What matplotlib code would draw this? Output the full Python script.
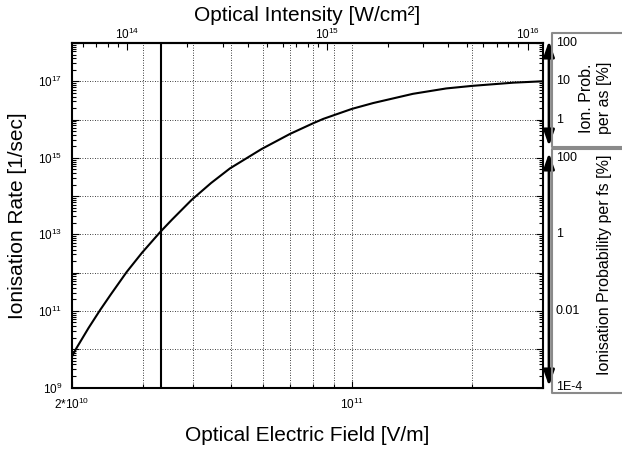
import numpy as np
import matplotlib
matplotlib.use("Agg")
import matplotlib.pyplot as plt
from matplotlib.ticker import FixedLocator, FixedFormatter, NullFormatter, LogLocator
from matplotlib.patches import FancyArrowPatch
from matplotlib.lines import Line2D
from matplotlib.transforms import blended_transform_factory

plt.rcParams['font.family'] = ['Liberation Sans', 'DejaVu Sans']

# optical field [V/m] and ionisation rate [1/s]
field = [2.0e10, 2.05e10, 2.2e10, 2.35e10, 2.5e10, 2.74e10, 2.99e10, 3.32e10,
         3.55e10, 3.98e10, 4.45e10, 4.96e10, 5.95e10, 7.0e10, 8.0e10, 8.48e10,
         1.0e11, 1.13e11, 1.42e11, 1.72e11, 2.0e11, 2.53e11, 3.0e11]
rate = [6.5e9, 1.05e10, 3.6e10, 1.05e11, 2.7e11, 1.05e12, 3.3e12, 1.15e13,
        2.4e13, 8.0e13, 2.2e14, 5.3e14, 1.7e15, 4.2e15, 8.0e15, 1.04e16,
        1.9e16, 2.7e16, 4.7e16, 6.5e16, 7.6e16, 9.2e16, 1.0e17]
field_marker = 3.33e10

field_major = [2e10, 1e11]
field_major_labels = [r'2*$\mathdefault{10^{10}}$', r'$\mathdefault{10^{11}}$']
field_minor = [3e10, 4e10, 5e10, 6e10, 7e10, 8e10, 9e10, 2e11, 3e11]

rate_ticks = [1e9, 1e10, 1e11, 1e12, 1e13, 1e14, 1e15, 1e16, 1e17, 1e18]
rate_labels = [r'$\mathdefault{10^{9}}$', '', r'$\mathdefault{10^{11}}$', '',
               r'$\mathdefault{10^{13}}$', '', r'$\mathdefault{10^{15}}$', '',
               r'$\mathdefault{10^{17}}$', '']

intensity_ticks = [1e14, 1e15, 1e16]
intensity_labels = [r'$\mathdefault{10^{14}}$', r'$\mathdefault{10^{15}}$',
                    r'$\mathdefault{10^{16}}$']

# probability scales [%] shown in the side boxes
prob_as = [100, 10, 1]
prob_as_labels = ['100', '10', '1']
prob_fs = [100, 1, 0.01, 1e-4]
prob_fs_labels = ['100', '1', '0.01', '1E-4']

K = 1.327e-7  # I[W/cm^2] = eps0*c/2 * E^2 / 1e4


def to_intensity(e):
    return K * np.asarray(e) ** 2


def to_field(i):
    return np.sqrt(np.abs(np.asarray(i)) / K)


W, H = 623, 454
fig = plt.figure(figsize=(W / 100, H / 100), dpi=100)
ax = fig.add_axes([72 / W, 1 - 387.5 / H, 471 / W, 344.5 / H])
ax.set_xscale('log')
ax.set_yscale('log')
ax.set_xlim(2e10, 3e11)
ax.set_ylim(1e9, 1e18)

ax.plot(field, rate, color='black', lw=1.5, zorder=3)
ax.axvline(field_marker, color='black', lw=1.5, zorder=3)

ax.xaxis.set_major_locator(FixedLocator(field_major))
ax.xaxis.set_major_formatter(FixedFormatter(field_major_labels))
ax.xaxis.set_minor_locator(FixedLocator(field_minor))
ax.xaxis.set_minor_formatter(NullFormatter())
ax.yaxis.set_major_locator(FixedLocator(rate_ticks))
ax.yaxis.set_major_formatter(FixedFormatter(rate_labels))
ax.yaxis.set_minor_locator(LogLocator(base=10, subs=np.arange(2, 10), numticks=100))
ax.yaxis.set_minor_formatter(NullFormatter())

dots = (0, (1, 2))
ax.grid(True, which='major', color='black', lw=0.6, ls=dots)
ax.grid(True, which='minor', axis='x', color='black', lw=0.6, ls=dots)

ax.tick_params(which='both', direction='in', top=False, right=True,
               labelsize=8.5, width=0.8)
ax.tick_params(which='major', length=5, pad=7)
ax.tick_params(which='minor', length=3)
for s in ax.spines.values():
    s.set_linewidth(1.5)

ax.set_xlabel('Optical Electric Field [V/m]', fontsize=15)
ax.xaxis.set_label_coords(0.5, -0.112)
ax.set_ylabel('Ionisation Rate [1/sec]', fontsize=15)
ax.yaxis.set_label_coords(-0.095, 0.5)

sec = ax.secondary_xaxis('top', functions=(to_intensity, to_field))
sec.set_xticks(intensity_ticks, intensity_labels)
sec.xaxis.set_minor_locator(LogLocator(base=10, subs=np.arange(2, 10), numticks=100))
sec.xaxis.set_minor_formatter(NullFormatter())
sec.tick_params(which='both', direction='in', labelsize=8.5, width=0.8)
sec.tick_params(which='major', length=5, pad=1)
sec.tick_params(which='minor', length=3)
sec.spines['top'].set_linewidth(1.5)
sec.set_xlabel('Optical Intensity [W/cm²]', fontsize=15, labelpad=4)

# side boxes with the probability scales, open towards the right edge
x0 = 552 / W
for top, bottom in [(33, 147), (148.5, 393)]:
    yt, yb = 1 - top / H, 1 - bottom / H
    fig.add_artist(Line2D([0.998, x0, x0, 0.998], [yt, yt, yb, yb],
                          transform=fig.transFigure, color='#8a8a8a', lw=1.5,
                          solid_capstyle='butt'))

tr = blended_transform_factory(fig.transFigure, ax.transData)
for p, lab in zip(prob_as, prob_as_labels):
    fig.text(556 / W, p / 100 / 1e-18, lab, transform=tr, ha='left', va='center',
             fontsize=9)
for p, lab in zip(prob_fs, prob_fs_labels):
    fig.text(556 / W, p / 100 / 1e-15, lab, transform=tr, ha='left', va='center',
             fontsize=9)

fig.text(595.5 / W, 1 - 98 / H, 'Ion. Prob.\nper as [%]', rotation=90,
         ha='center', va='center', multialignment='center', fontsize=11.5,
         linespacing=1.25)
fig.text(604 / W, 1 - 265 / H, 'Ionisation Probability per fs [%]', rotation=90,
         ha='center', va='center', fontsize=11.5)

for y0, y1 in [(41, 146), (153, 386)]:
    arr = FancyArrowPatch((549 / W, 1 - y0 / H), (549 / W, 1 - y1 / H),
                          transform=fig.transFigure,
                          arrowstyle='<|-|>,head_length=0.85,head_width=0.3',
                          mutation_scale=11, lw=2.0, color='black',
                          shrinkA=0, shrinkB=0)
    fig.add_artist(arr)

fig.savefig('out.png', dpi=100)
